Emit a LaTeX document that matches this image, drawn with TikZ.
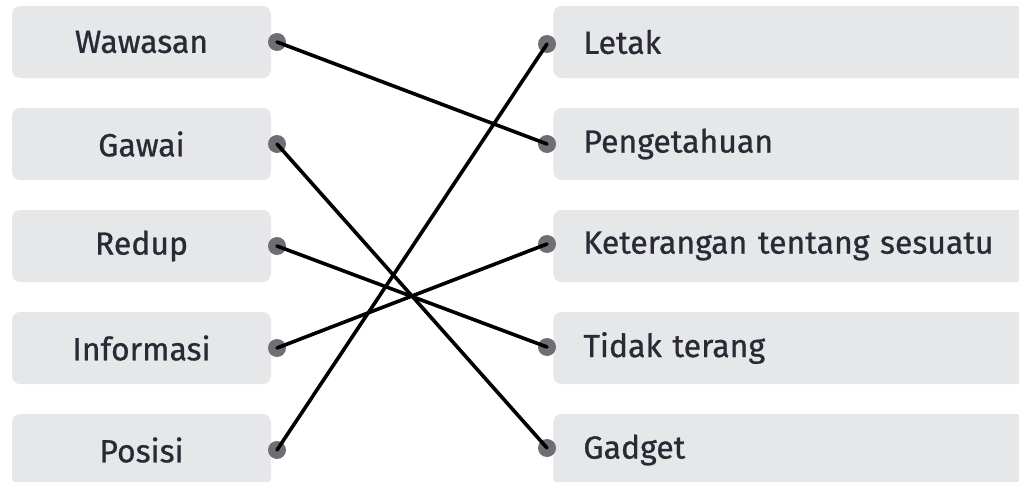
\documentclass[tikz,border=0pt]{standalone}
\usepackage{fontspec}
\setmainfont{Fira Sans}
\newfontfamily\labelfont[FakeBold=0.8]{Fira Sans}
\usepackage{xcolor}
\usepackage{tikz}
\usetikzlibrary{positioning}
\definecolor{boxgray}{HTML}{E6E7E9}
\definecolor{dotgray}{HTML}{6E6E74}
\definecolor{textdark}{HTML}{2A2A36}
\tikzset{
  leftbox/.style={
    rectangle, rounded corners=4pt, fill=boxgray,
    minimum width=129.5pt, minimum height=36pt, inner sep=0pt,
    text=textdark, font=\labelfont\fontsize{16}{19}\selectfont
  },
  rightbox/.style={
    rectangle, rounded corners=4pt, fill=boxgray, anchor=west,
    minimum width=240pt, minimum height=36pt, inner xsep=15pt,
    text width=210pt, align=left,
    text=textdark, font=\labelfont\fontsize{16}{19}\selectfont
  },
  dot/.style={circle, fill=dotgray, minimum size=9pt, inner sep=0pt},
  link/.style={line width=1.8pt, black, line cap=round},
}

\begin{document}
\begin{tikzpicture}[x=0.5pt, y=-0.5pt]
  \useasboundingbox (0,0) rectangle (1019,482);
  \clip (0,0) rectangle (1019,482);

  % Left column
  \node[leftbox] (wawasan) at (141.5,42) {Wawasan};
  \node[leftbox] (gawai) at (141.5,144) {Gawai};
  \node[leftbox] (redup) at (141.5,246) {Redup};
  \node[leftbox] (informasi) at (141.5,348) {Informasi};
  \node[leftbox] (posisi) at (141.5,450) {Posisi};

  % Right column
  \node[rightbox] (letak) at (553,42) {Letak};
  \node[rightbox] (pengetahuan) at (553,144) {Pengetahuan};
  \node[rightbox] (keterangan) at (553,246) {Keterangan tentang sesuatu};
  \node[rightbox] (tidakterang) at (553,348) {Tidak terang};
  \node[rightbox] (gadget) at (553,450) {Gadget};

  % Dots
  \node[dot] (wawasan-dot) at (277,42) {};
  \node[dot] (gawai-dot) at (277,144) {};
  \node[dot] (redup-dot) at (277,246) {};
  \node[dot] (informasi-dot) at (277,348) {};
  \node[dot] (posisi-dot) at (277,450) {};
  \node[dot] (letak-dot) at (547,44) {};
  \node[dot] (pengetahuan-dot) at (547,144) {};
  \node[dot] (keterangan-dot) at (547,244) {};
  \node[dot] (tidakterang-dot) at (547,347) {};
  \node[dot] (gadget-dot) at (547,448) {};

  % Matching lines
  \draw[link] (wawasan-dot.center) -- (pengetahuan-dot.center);
  \draw[link] (gawai-dot.center) -- (gadget-dot.center);
  \draw[link] (redup-dot.center) -- (tidakterang-dot.center);
  \draw[link] (informasi-dot.center) -- (keterangan-dot.center);
  \draw[link] (posisi-dot.center) -- (letak-dot.center);
\end{tikzpicture}
\end{document}
